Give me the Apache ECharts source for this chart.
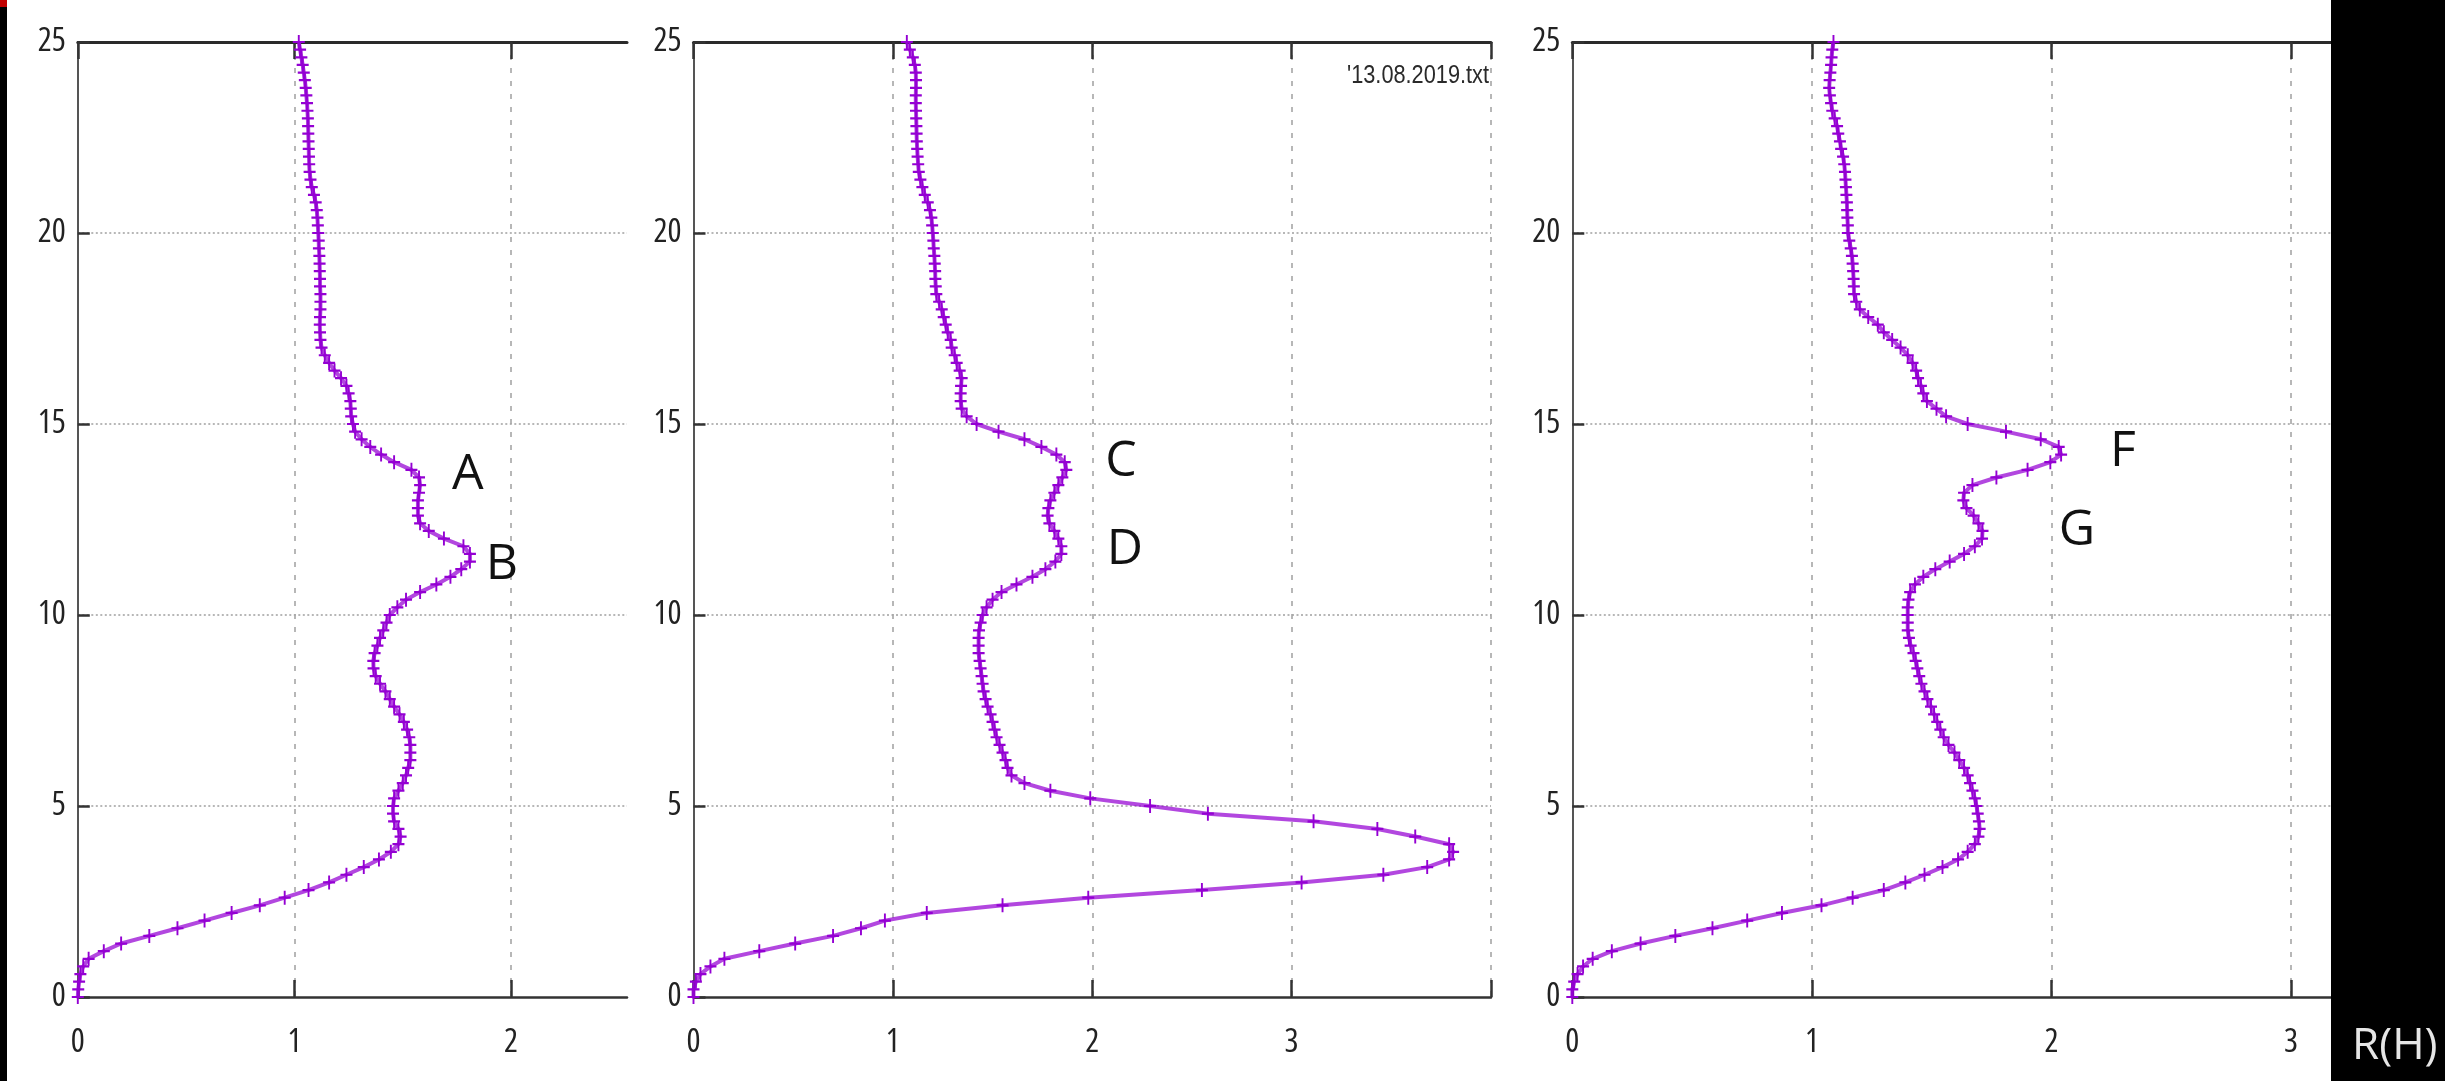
<!DOCTYPE html>
<html>
<head>
<meta charset="utf-8">
<title>R(H) profiles</title>
<script src="https://cdn.jsdelivr.net/npm/echarts@6/dist/echarts.min.js"></script>
<style>
  html, body { margin: 0; padding: 0; background: #fff; }
  #chart { width: 2445px; height: 1081px; }
</style>
</head>
<body>
<div id="chart"></div>
<script>
// Height levels (km) shared by the three profiles
const heights = [
  0, 0.2, 0.4, 0.6, 0.8, 1, 1.2, 1.4, 1.6, 1.8,
  2, 2.2, 2.4, 2.6, 2.8, 3, 3.2, 3.4, 3.6, 3.8,
  4, 4.2, 4.4, 4.6, 4.8, 5, 5.2, 5.4, 5.6, 5.8,
  6, 6.2, 6.4, 6.6, 6.8, 7, 7.2, 7.4, 7.6, 7.8,
  8, 8.2, 8.4, 8.6, 8.8, 9, 9.2, 9.4, 9.6, 9.8,
  10, 10.2, 10.4, 10.6, 10.8, 11, 11.2, 11.4, 11.6, 11.8,
  12, 12.2, 12.4, 12.6, 12.8, 13, 13.2, 13.4, 13.6, 13.8,
  14, 14.2, 14.4, 14.6, 14.8, 15, 15.2, 15.4, 15.6, 15.8,
  16, 16.2, 16.4, 16.6, 16.8, 17, 17.2, 17.4, 17.6, 17.8,
  18, 18.2, 18.4, 18.6, 18.8, 19, 19.2, 19.4, 19.6, 19.8,
  20, 20.2, 20.4, 20.6, 20.8, 21, 21.2, 21.4, 21.6, 21.8,
  22, 22.2, 22.4, 22.6, 22.8, 23, 23.2, 23.4, 23.6, 23.8,
  24, 24.2, 24.4, 24.6, 24.8, 25
];

// Left profile (labels A, B)
const profileLeft = [
  0, 0.002, 0.006, 0.012, 0.025, 0.05, 0.12, 0.2, 0.33, 0.46,
  0.585, 0.71, 0.84, 0.955, 1.065, 1.16, 1.24, 1.32, 1.39, 1.445,
  1.48, 1.49, 1.48, 1.46, 1.455, 1.455, 1.46, 1.48, 1.5, 1.515,
  1.525, 1.535, 1.535, 1.535, 1.53, 1.52, 1.505, 1.485, 1.46, 1.44,
  1.42, 1.395, 1.375, 1.365, 1.364, 1.37, 1.383, 1.395, 1.41, 1.425,
  1.44, 1.475, 1.515, 1.58, 1.655, 1.72, 1.77, 1.81, 1.81, 1.78,
  1.69, 1.62, 1.58, 1.57, 1.57, 1.57, 1.575, 1.58, 1.575, 1.54,
  1.46, 1.4, 1.35, 1.31, 1.28, 1.27, 1.262, 1.26, 1.258, 1.25,
  1.24, 1.215, 1.185, 1.16, 1.14, 1.125, 1.12, 1.118, 1.117, 1.118,
  1.12, 1.12, 1.12, 1.118, 1.118, 1.117, 1.116, 1.115, 1.113, 1.112,
  1.11, 1.108, 1.106, 1.103, 1.098, 1.09, 1.08, 1.074, 1.07, 1.068,
  1.067, 1.066, 1.065, 1.064, 1.063, 1.062, 1.06, 1.058, 1.055, 1.052,
  1.048, 1.043, 1.038, 1.032, 1.026, 1.02
];

// Middle profile (labels C, D), file 13.08.2019.txt
const profileMiddle = [
  0, 0, 0.012, 0.035, 0.085, 0.155, 0.33, 0.51, 0.7, 0.84,
  0.96, 1.17, 1.55, 1.98, 2.55, 3.05, 3.46, 3.68, 3.79, 3.81,
  3.79, 3.62, 3.43, 3.11, 2.58, 2.29, 1.99, 1.79, 1.66, 1.595,
  1.575, 1.565, 1.55, 1.535, 1.52, 1.51, 1.5, 1.49, 1.475, 1.465,
  1.455, 1.45, 1.445, 1.44, 1.435, 1.43, 1.43, 1.43, 1.432, 1.44,
  1.45, 1.47, 1.5, 1.545, 1.62, 1.7, 1.765, 1.815, 1.845, 1.845,
  1.83, 1.81, 1.785, 1.776, 1.78, 1.79, 1.81, 1.83, 1.85, 1.87,
  1.862, 1.82, 1.745, 1.66, 1.53, 1.42, 1.37, 1.345, 1.34, 1.34,
  1.342, 1.345, 1.335, 1.32, 1.31, 1.295, 1.29, 1.275, 1.265, 1.255,
  1.245, 1.232, 1.218, 1.215, 1.213, 1.212, 1.21, 1.208, 1.205, 1.203,
  1.2, 1.197, 1.193, 1.186, 1.175, 1.16, 1.148, 1.138, 1.13, 1.127,
  1.124, 1.122, 1.12, 1.119, 1.118, 1.117, 1.116, 1.115, 1.115, 1.116,
  1.116, 1.115, 1.11, 1.1, 1.085, 1.07
];

// Right profile (labels F, G)
const profileRight = [
  0, 0, 0.008, 0.022, 0.045, 0.085, 0.165, 0.285, 0.43, 0.585,
  0.73, 0.875, 1.04, 1.17, 1.3, 1.39, 1.47, 1.545, 1.61, 1.65,
  1.68, 1.695, 1.7, 1.697, 1.692, 1.687, 1.68, 1.67, 1.66, 1.65,
  1.635, 1.615, 1.595, 1.57, 1.55, 1.536, 1.523, 1.51, 1.497, 1.482,
  1.47, 1.457, 1.448, 1.44, 1.433, 1.424, 1.412, 1.405, 1.4, 1.4,
  1.4, 1.4, 1.403, 1.41, 1.43, 1.465, 1.515, 1.575, 1.635, 1.68,
  1.71, 1.712, 1.695, 1.675, 1.645, 1.632, 1.635, 1.67, 1.77, 1.9,
  1.995, 2.04, 2.03, 1.955, 1.81, 1.65, 1.56, 1.52, 1.48, 1.465,
  1.455, 1.443, 1.435, 1.42, 1.4, 1.37, 1.335, 1.3, 1.275, 1.235,
  1.2, 1.185, 1.176, 1.175, 1.174, 1.172, 1.17, 1.167, 1.162, 1.156,
  1.15, 1.15, 1.148, 1.147, 1.146, 1.144, 1.142, 1.14, 1.138, 1.135,
  1.13, 1.122, 1.117, 1.11, 1.105, 1.095, 1.085, 1.08, 1.075, 1.072,
  1.074, 1.077, 1.08, 1.082, 1.085, 1.09
];

// Axis ticks
const heightTicks = [0, 5, 10, 15, 20, 25];
const ratioTicksLeft = [0, 1, 2];
const ratioTicksMiddle = [0, 1, 2, 3, 4];
const ratioTicksRight = [0, 1, 2, 3];
const ratioLabelsMiddle = [0, 1, 2, 3];

// Peak labels: [letter, R, H]
const labelsLeft = [['A', 1.80, 13.66], ['B', 1.958, 11.31]];
const labelsMiddle = [['C', 2.144, 14.0], ['D', 2.164, 11.7]];
const labelsRight = [['F', 2.298, 14.27], ['G', 2.106, 12.2]];

const fileName = "'13.08.2019.txt";
const xTitle = 'R(H)';

const profiles = [profileLeft, profileMiddle, profileRight];
const ratioTicks = [ratioTicksLeft, ratioTicksMiddle, ratioTicksRight];
const ratioLabels = [ratioTicksLeft, ratioLabelsMiddle, ratioTicksRight];
const peakLabels = [labelsLeft, labelsMiddle, labelsRight];

// Panel layout in pixels
const panels = [
  { left: 77.8, width: 549.2, max: 2.535 },
  { left: 693.5, width: 797.5, max: 4 },
  { left: 1572.3, width: 758.6, max: 3.166 }
];
const plotTop = 42;
const plotHeight = 955;

// Tick numbers use a narrow face when one of the installed families has it
function pickTickFont() {
  const ctx = document.createElement('canvas').getContext('2d');
  const sample = '0123456789';
  const families = ["'Liberation Sans'", "'Open Sans'", "'Noto Sans'", "'DejaVu Sans'", 'Roboto'];
  for (const fam of families) {
    ctx.font = '33px ' + fam;
    const regular = ctx.measureText(sample).width;
    ctx.font = 'condensed 33px ' + fam;
    const narrow = ctx.measureText(sample).width;
    if (narrow < regular * 0.92) {
      return { fontFamily: fam, fontWeight: 'condensed', fontSize: 33 };
    }
  }
  return { fontFamily: "'Liberation Sans'", fontWeight: 'normal', fontSize: 32 };
}
const tickFont = pickTickFont();

const violet = '#9400d3';
const plusPath = 'path://M0,5.05H12V6.95H0Z M5.05,0H6.95V12H5.05Z';

const grids = [], xAxes = [], yAxes = [], series = [];

panels.forEach((p, i) => {
  grids.push({ left: p.left, top: plotTop, width: p.width, height: plotHeight, containLabel: false });

  // bottom axis with labels and grid columns
  xAxes.push({
    gridIndex: i, type: 'value', position: 'bottom', min: 0, max: p.max, interval: 1,
    axisLine: { show: true, onZero: false, lineStyle: { color: '#333', width: 2.5 } },
    axisTick: { show: true, inside: true, length: 17, customValues: ratioTicks[i],
                lineStyle: { color: '#333', width: 2.5 } },
    axisLabel: Object.assign({ show: true, customValues: ratioLabels[i], margin: 29,
                 color: '#222' }, tickFont),
    splitLine: { show: true, showMinLine: false, showMaxLine: true,
                 lineStyle: { color: '#a6a6a6', width: 1.6, type: [5, 8] } }
  });
  // mirrored top border
  xAxes.push({
    gridIndex: i, type: 'value', position: 'top', min: 0, max: p.max, interval: 1,
    axisLine: { show: true, onZero: false, lineStyle: { color: '#2a2a2a', width: 3 } },
    axisTick: { show: true, inside: true, length: 17, customValues: ratioTicks[i],
                lineStyle: { color: '#333', width: 2.5 } },
    axisLabel: { show: false },
    splitLine: { show: false }
  });

  yAxes.push({
    gridIndex: i, type: 'value', min: 0, max: 25, interval: 5,
    axisLine: { show: true, onZero: false, lineStyle: { color: '#555', width: 2 } },
    axisTick: { show: true, inside: true, length: 12, lineStyle: { color: '#333', width: 2.5 } },
    axisLabel: Object.assign({ show: true, margin: 12, color: '#222', padding: [8, 0, 0, 0],
                 customValues: heightTicks }, tickFont),
    splitLine: { show: true, showMinLine: false, showMaxLine: false,
                 lineStyle: { color: '#a0a0a0', width: 1.5, type: [2, 2.5] } }
  });

  const data = profiles[i].map((r, k) => [r, heights[k]]);
  series.push({
    type: 'line', xAxisIndex: i * 2, yAxisIndex: i, data: data,
    clip: false, smooth: false, showAllSymbol: true,
    symbol: plusPath, symbolSize: [12, 14],
    lineStyle: { color: 'rgba(148, 0, 211, 0.72)', width: 4 },
    itemStyle: { color: violet },
    emphasis: { disabled: true },
    markPoint: {
      symbol: 'circle', symbolSize: 0, silent: true, animation: false,
      label: { show: true, position: 'inside', fontSize: 50,
               fontFamily: "'Open Sans', 'Noto Sans', sans-serif", color: '#111',
               formatter: (pt) => pt.name },
      data: peakLabels[i].map(l => ({ name: l[0], coord: [l[1], l[2]] }))
    }
  });
});

const chart = echarts.init(document.getElementById('chart'), null, { renderer: 'canvas' });
chart.setOption({
  backgroundColor: '#ffffff',
  animation: false,
  grid: grids,
  xAxis: xAxes,
  yAxis: yAxes,
  series: series,
  graphic: [
    // left frame strip
    { type: 'rect', left: 0, top: 0, shape: { width: 7, height: 1081 }, style: { fill: '#000' }, z: 100 },
    { type: 'rect', left: 0, top: 0, shape: { width: 7, height: 7 }, style: { fill: '#c00000' }, z: 101 },
    // right frame block with axis title
    { type: 'rect', left: 2331, top: 0, shape: { width: 114, height: 1081 }, style: { fill: '#000' }, z: 100 },
    { type: 'text', left: 2352, top: 1024, z: 101,
      style: { text: xTitle, fill: '#e6e6e6', fontSize: 44, fontFamily: "'Open Sans', 'Noto Sans', sans-serif" } },
    // key title of the middle panel
    { type: 'text', x: 1347, y: 64, scaleX: 0.87, z: 50,
      style: { text: fileName, fill: '#2a2a2a', fontSize: 25, fontFamily: "'Liberation Sans', sans-serif" } },
    { type: 'rect', left: 1493, top: 55, shape: { width: 30, height: 45 }, style: { fill: '#fff' }, z: 51 }
  ]
});
</script>
</body>
</html>
